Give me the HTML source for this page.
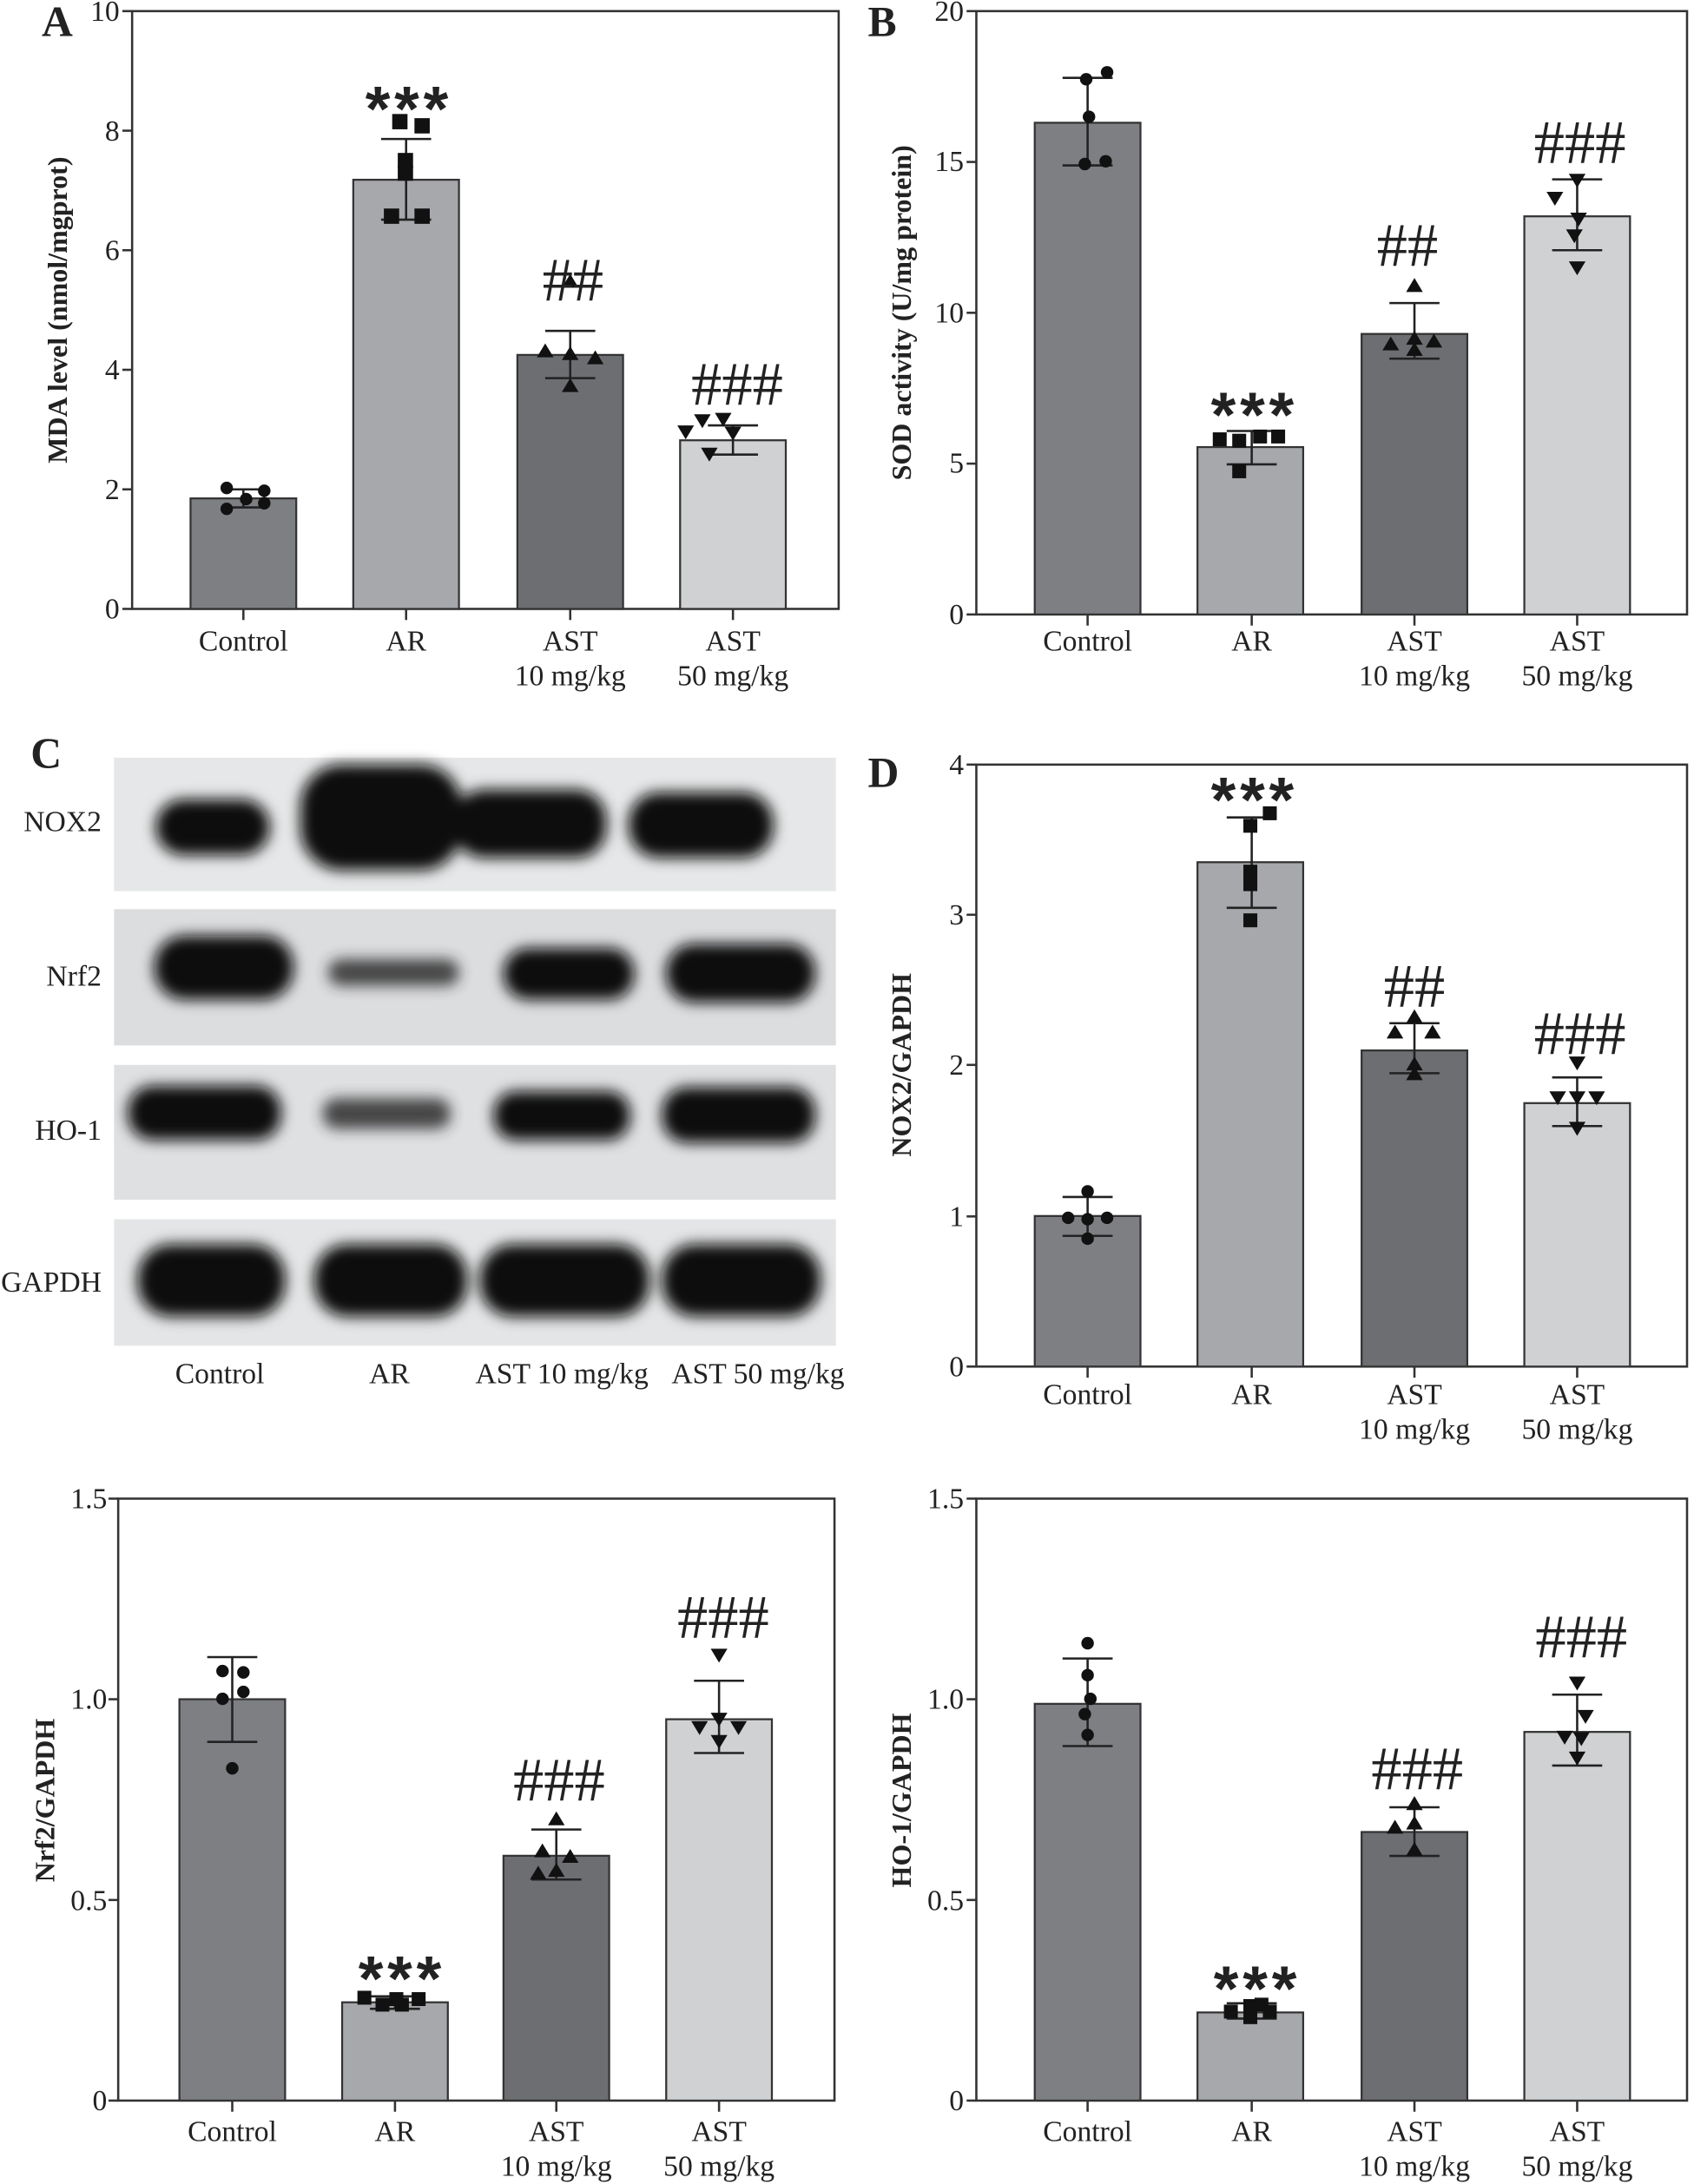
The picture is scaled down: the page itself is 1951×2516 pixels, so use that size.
<!DOCTYPE html>
<html><head><meta charset="utf-8"><style>
html,body{margin:0;padding:0;background:#fff}
svg{display:block}
text{font-family:"Liberation Serif",serif;fill:#222}
.t{font-size:21px}
.yl{font-size:20px;font-weight:bold}
.pl{font-size:31px;font-weight:bold}
.st{font-size:46px;font-family:"Liberation Sans",sans-serif;font-weight:bold;letter-spacing:3px}
.h{font-size:44px}
.ax{stroke:#333;stroke-width:1.6;fill:none}
.bar{stroke:#333;stroke-width:1.4}
.e{stroke:#222;stroke-width:1.6;fill:none}
</style></head><body>
<svg width="1951" height="2516" viewBox="0 0 1218 1571" preserveAspectRatio="none" xmlns="http://www.w3.org/2000/svg">
<defs>
<filter id="bl" x="-20%" y="-60%" width="140%" height="220%"><feGaussianBlur stdDeviation="5"/></filter>
</defs>

<!-- ===== Panel A ===== -->
<text class="pl" x="30" y="26">A</text>
<rect class="ax" x="95" y="8" width="508" height="430"/>
<g class="ax"><line x1="88" y1="438" x2="95" y2="438"/><line x1="88" y1="352" x2="95" y2="352"/><line x1="88" y1="266" x2="95" y2="266"/><line x1="88" y1="180" x2="95" y2="180"/><line x1="88" y1="94" x2="95" y2="94"/><line x1="88" y1="8" x2="95" y2="8"/>
<line x1="175" y1="438" x2="175" y2="446"/><line x1="292" y1="438" x2="292" y2="446"/><line x1="410" y1="438" x2="410" y2="446"/><line x1="527" y1="438" x2="527" y2="446"/></g>
<g class="t" text-anchor="end"><text x="86" y="445">0</text><text x="86" y="359">2</text><text x="86" y="273">4</text><text x="86" y="187">6</text><text x="86" y="101">8</text><text x="86" y="15">10</text></g>
<text class="yl" transform="translate(48,223) rotate(-90)" text-anchor="middle">MDA level (nmol/mgprot)</text>
<rect class="bar" x="137" y="358.5" width="76" height="79.5" fill="#7d7f83"/>
<rect class="bar" x="254" y="129.3" width="76" height="308.7" fill="#a6a8ac"/>
<rect class="bar" x="372" y="255.3" width="76" height="182.7" fill="#6d6e72"/>
<rect class="bar" x="489" y="316.7" width="76" height="121.3" fill="#d0d1d3"/>
<g class="e"><path d="M175 365V352M160 352H190M160 365H190"/><path d="M292 158V100M274 100H310M274 158H310"/><path d="M410 272V238M392 238H428M392 272H428"/><path d="M527 327V306M509 306H545M509 327H545"/></g>
<g fill="#111"><circle cx="163" cy="351" r="4.5"/><circle cx="190" cy="353" r="4.5"/><circle cx="177" cy="359" r="4.5"/><circle cx="163" cy="366" r="4.5"/><circle cx="190" cy="362" r="4.5"/>
<rect x="282" y="82" width="11" height="11"/><rect x="298" y="85" width="11" height="11"/><rect x="286" y="110" width="11" height="11"/><rect x="286" y="119" width="11" height="11"/><rect x="276" y="150" width="11" height="11"/><rect x="298" y="150" width="11" height="11"/>
<path d="M410 197l6 10h-12z"/><path d="M392 247l6 10h-12z"/><path d="M410 249l6 10h-12z"/><path d="M428 252l6 10h-12z"/><path d="M410 272l6 10h-12z"/>
<path d="M505 308l6-10h-12z"/><path d="M520 307l6-10h-12z"/><path d="M493 316l6-10h-12z"/><path d="M527 317l6-10h-12z"/><path d="M510 332l6-10h-12z"/></g>
<text class="st" x="294" y="94" text-anchor="middle">***</text>
<text class="h" x="412" y="216" text-anchor="middle">##</text>
<text class="h" x="530" y="291" text-anchor="middle">###</text>
<g class="t" text-anchor="middle"><text x="175" y="468">Control</text><text x="292" y="468">AR</text><text x="410" y="468">AST</text><text x="410" y="493">10 mg/kg</text><text x="527" y="468">AST</text><text x="527" y="493">50 mg/kg</text></g>

<!-- ===== Panel B ===== -->
<text class="pl" x="624" y="26">B</text>
<rect class="ax" x="702" y="8" width="511" height="434"/>
<g class="ax"><line x1="695" y1="442" x2="702" y2="442"/><line x1="695" y1="333.5" x2="702" y2="333.5"/><line x1="695" y1="225" x2="702" y2="225"/><line x1="695" y1="116.5" x2="702" y2="116.5"/><line x1="695" y1="8" x2="702" y2="8"/>
<line x1="782" y1="442" x2="782" y2="450"/><line x1="900" y1="442" x2="900" y2="450"/><line x1="1017" y1="442" x2="1017" y2="450"/><line x1="1134" y1="442" x2="1134" y2="450"/></g>
<g class="t" text-anchor="end"><text x="693" y="449">0</text><text x="693" y="340">5</text><text x="693" y="232">10</text><text x="693" y="123">15</text><text x="693" y="15">20</text></g>
<text class="yl" transform="translate(655,225) rotate(-90)" text-anchor="middle">SOD activity (U/mg protein)</text>
<rect class="bar" x="744" y="88.3" width="76" height="353.7" fill="#7d7f83"/>
<rect class="bar" x="861" y="321.6" width="76" height="120.4" fill="#a6a8ac"/>
<rect class="bar" x="979" y="240.2" width="76" height="201.8" fill="#6d6e72"/>
<rect class="bar" x="1096" y="155.6" width="76" height="286.4" fill="#d0d1d3"/>
<g class="e"><path d="M782 119V56M764 56H800M764 119H800"/><path d="M900 334V310M882 310H918M882 334H918"/><path d="M1017 258V218M999 218H1035M999 258H1035"/><path d="M1134 180V129M1116 129H1152M1116 180H1152"/></g>
<g fill="#111"><circle cx="796" cy="52" r="4.5"/><circle cx="781" cy="57" r="4.5"/><circle cx="783" cy="84" r="4.5"/><circle cx="780" cy="118" r="4.5"/><circle cx="795" cy="116" r="4.5"/>
<rect x="872" y="311" width="10" height="10"/><rect x="886" y="312" width="10" height="10"/><rect x="901" y="309" width="10" height="10"/><rect x="914" y="309" width="10" height="10"/><rect x="886" y="334" width="10" height="10"/>
<path d="M1017 200l6 10h-12z"/><path d="M1000 242l6 10h-12z"/><path d="M1017 238l6 10h-12z"/><path d="M1031 240l6 10h-12z"/><path d="M1017 246l6 10h-12z"/>
<path d="M1134 135l6-10h-12z"/><path d="M1118 148l6-10h-12z"/><path d="M1135 163l6-10h-12z"/><path d="M1132 175l6-10h-12z"/><path d="M1134 198l6-10h-12z"/></g>
<text class="st" x="902" y="314" text-anchor="middle">***</text>
<text class="h" x="1012" y="191" text-anchor="middle">##</text>
<text class="h" x="1136" y="117" text-anchor="middle">###</text>
<g class="t" text-anchor="middle"><text x="782" y="468">Control</text><text x="900" y="468">AR</text><text x="1017" y="468">AST</text><text x="1017" y="493">10 mg/kg</text><text x="1134" y="468">AST</text><text x="1134" y="493">50 mg/kg</text></g>

<!-- ===== Panel C ===== -->
<text class="pl" x="22" y="552">C</text>
<rect x="82" y="545" width="519" height="96" fill="#e6e7e8"/>
<rect x="82" y="654" width="519" height="98" fill="#dcdddf"/>
<rect x="82" y="766" width="519" height="97" fill="#dfe0e2"/>
<rect x="82" y="877" width="519" height="91" fill="#e4e5e6"/>
<g fill="#0a0a0a" filter="url(#bl)">
<rect x="112" y="575" width="82" height="40" rx="20"/>
<rect x="216" y="550" width="116" height="76" rx="30"/><rect x="326" y="568" width="110" height="49" rx="22"/><rect x="452" y="570" width="104" height="47" rx="22"/>
<rect x="111" y="673" width="100" height="46" rx="22"/><rect x="362" y="682" width="94" height="37" rx="18"/><rect x="479" y="679" width="107" height="42" rx="20"/>
<rect x="92" y="781" width="110" height="39" rx="18"/><rect x="355" y="785" width="98" height="35" rx="16"/><rect x="476" y="782" width="110" height="40" rx="18"/>
<rect x="99" y="895" width="106" height="52" rx="24"/><rect x="226" y="895" width="110" height="52" rx="24"/><rect x="345" y="895" width="122" height="52" rx="24"/><rect x="476" y="895" width="114" height="52" rx="24"/>
</g>
<g fill="#2a2a2a" filter="url(#bl)" opacity="0.85">
<rect x="236" y="690" width="94" height="19" rx="9"/><rect x="232" y="790" width="92" height="22" rx="10"/>
</g>
<g class="t" text-anchor="end"><text x="73" y="598">NOX2</text><text x="73" y="709">Nrf2</text><text x="73" y="820">HO-1</text><text x="73" y="929">GAPDH</text></g>
<g class="t" text-anchor="middle"><text x="158" y="995">Control</text><text x="280" y="995">AR</text><text x="404" y="995">AST 10 mg/kg</text><text x="545" y="995">AST 50 mg/kg</text></g>

<!-- ===== Panel D ===== -->
<text class="pl" x="624" y="566">D</text>
<rect class="ax" x="702" y="550" width="511" height="433"/>
<g class="ax"><line x1="695" y1="983" x2="702" y2="983"/><line x1="695" y1="875" x2="702" y2="875"/><line x1="695" y1="766" x2="702" y2="766"/><line x1="695" y1="658" x2="702" y2="658"/><line x1="695" y1="550" x2="702" y2="550"/>
<line x1="782" y1="983" x2="782" y2="991"/><line x1="900" y1="983" x2="900" y2="991"/><line x1="1017" y1="983" x2="1017" y2="991"/><line x1="1134" y1="983" x2="1134" y2="991"/></g>
<g class="t" text-anchor="end"><text x="693" y="990">0</text><text x="693" y="882">1</text><text x="693" y="773">2</text><text x="693" y="665">3</text><text x="693" y="557">4</text></g>
<text class="yl" transform="translate(655,766) rotate(-90)" text-anchor="middle">NOX2/GAPDH</text>
<rect class="bar" x="744" y="874.7" width="76" height="108.3" fill="#7d7f83"/>
<rect class="bar" x="861" y="620.2" width="76" height="362.8" fill="#a6a8ac"/>
<rect class="bar" x="979" y="755.6" width="76" height="227.4" fill="#6d6e72"/>
<rect class="bar" x="1096" y="793.5" width="76" height="189.5" fill="#d0d1d3"/>
<g class="e"><path d="M782 889V861M764 861H800M764 889H800"/><path d="M900 653V588M882 588H918M882 653H918"/><path d="M1017 772V736M999 736H1035M999 772H1035"/><path d="M1134 810V775M1116 775H1152M1116 810H1152"/></g>
<g fill="#111"><circle cx="782" cy="857" r="4.5"/><circle cx="768" cy="876" r="4.5"/><circle cx="782" cy="877" r="4.5"/><circle cx="796" cy="876" r="4.5"/><circle cx="782" cy="891" r="4.5"/>
<rect x="908" y="580" width="10" height="10"/><rect x="894" y="589" width="10" height="10"/><rect x="894" y="622" width="10" height="10"/><rect x="894" y="631" width="10" height="10"/><rect x="894" y="657" width="10" height="10"/>
<path d="M1017 726l6 10h-12z"/><path d="M1003 737l6 10h-12z"/><path d="M1030 737l6 10h-12z"/><path d="M1017 760l6 10h-12z"/><path d="M1017 767l6 10h-12z"/>
<path d="M1134 770l6-10h-12z"/><path d="M1120 795l6-10h-12z"/><path d="M1148 795l6-10h-12z"/><path d="M1134 795l6-10h-12z"/><path d="M1134 817l6-10h-12z"/></g>
<text class="st" x="902" y="591" text-anchor="middle">***</text>
<text class="h" x="1017" y="724" text-anchor="middle">##</text>
<text class="h" x="1136" y="758" text-anchor="middle">###</text>
<g class="t" text-anchor="middle"><text x="782" y="1010">Control</text><text x="900" y="1010">AR</text><text x="1017" y="1010">AST</text><text x="1017" y="1035">10 mg/kg</text><text x="1134" y="1010">AST</text><text x="1134" y="1035">50 mg/kg</text></g>

<!-- ===== Nrf2 ===== -->
<rect class="ax" x="85" y="1078" width="515" height="433"/>
<g class="ax"><line x1="78" y1="1511" x2="85" y2="1511"/><line x1="78" y1="1366.7" x2="85" y2="1366.7"/><line x1="78" y1="1222.3" x2="85" y2="1222.3"/><line x1="78" y1="1078" x2="85" y2="1078"/>
<line x1="167" y1="1511" x2="167" y2="1519"/><line x1="284" y1="1511" x2="284" y2="1519"/><line x1="400" y1="1511" x2="400" y2="1519"/><line x1="517" y1="1511" x2="517" y2="1519"/></g>
<g class="t" text-anchor="end"><text x="77" y="1518">0</text><text x="77" y="1374">0.5</text><text x="77" y="1229">1.0</text><text x="77" y="1085">1.5</text></g>
<text class="yl" transform="translate(39,1295) rotate(-90)" text-anchor="middle">Nrf2/GAPDH</text>
<rect class="bar" x="129" y="1222.3" width="76" height="288.7" fill="#7d7f83"/>
<rect class="bar" x="246" y="1440.3" width="76" height="70.7" fill="#a6a8ac"/>
<rect class="bar" x="362" y="1334.9" width="76" height="176.1" fill="#6d6e72"/>
<rect class="bar" x="479" y="1236.7" width="76" height="274.3" fill="#d0d1d3"/>
<g class="e"><path d="M167 1253V1192M149 1192H185M149 1253H185"/><path d="M284 1445V1436M266 1436H302M266 1445H302"/><path d="M400 1352V1316M382 1316H418M382 1352H418"/><path d="M517 1261V1209M499 1209H535M499 1261H535"/></g>
<g fill="#111"><circle cx="160" cy="1202" r="4.5"/><circle cx="175" cy="1203" r="4.5"/><circle cx="175" cy="1217" r="4.5"/><circle cx="160" cy="1222" r="4.5"/><circle cx="167" cy="1272" r="4.5"/>
<rect x="257" y="1432" width="10" height="10"/><rect x="270" y="1437" width="10" height="10"/><rect x="284" y="1437" width="10" height="10"/><rect x="296" y="1433" width="10" height="10"/><rect x="280" y="1433" width="10" height="10"/>
<path d="M400 1303l6 10h-12z"/><path d="M390 1326l6 10h-12z"/><path d="M410 1330l6 10h-12z"/><path d="M400 1340l6 10h-12z"/><path d="M387 1342l6 10h-12z"/>
<path d="M517 1196l6-10h-12z"/><path d="M503 1248l6-10h-12z"/><path d="M517 1242l6-10h-12z"/><path d="M531 1248l6-10h-12z"/><path d="M517 1258l6-10h-12z"/></g>
<text class="st" x="289" y="1439" text-anchor="middle">***</text>
<text class="h" x="402" y="1295" text-anchor="middle">###</text>
<text class="h" x="520" y="1178" text-anchor="middle">###</text>
<g class="t" text-anchor="middle"><text x="167" y="1540">Control</text><text x="284" y="1540">AR</text><text x="400" y="1540">AST</text><text x="400" y="1565">10 mg/kg</text><text x="517" y="1540">AST</text><text x="517" y="1565">50 mg/kg</text></g>

<!-- ===== HO-1 ===== -->
<rect class="ax" x="702" y="1078" width="511" height="433"/>
<g class="ax"><line x1="695" y1="1511" x2="702" y2="1511"/><line x1="695" y1="1366.7" x2="702" y2="1366.7"/><line x1="695" y1="1222.3" x2="702" y2="1222.3"/><line x1="695" y1="1078" x2="702" y2="1078"/>
<line x1="782" y1="1511" x2="782" y2="1519"/><line x1="900" y1="1511" x2="900" y2="1519"/><line x1="1017" y1="1511" x2="1017" y2="1519"/><line x1="1134" y1="1511" x2="1134" y2="1519"/></g>
<g class="t" text-anchor="end"><text x="693" y="1518">0</text><text x="693" y="1374">0.5</text><text x="693" y="1229">1.0</text><text x="693" y="1085">1.5</text></g>
<text class="yl" transform="translate(655,1295) rotate(-90)" text-anchor="middle">HO-1/GAPDH</text>
<rect class="bar" x="744" y="1225.6" width="76" height="285.4" fill="#7d7f83"/>
<rect class="bar" x="861" y="1447.6" width="76" height="63.4" fill="#a6a8ac"/>
<rect class="bar" x="979" y="1317.8" width="76" height="193.2" fill="#6d6e72"/>
<rect class="bar" x="1096" y="1245.8" width="76" height="265.2" fill="#d0d1d3"/>
<g class="e"><path d="M782 1256V1193M764 1193H800M764 1256H800"/><path d="M900 1452V1441M882 1441H918M882 1452H918"/><path d="M1017 1335V1300M999 1300H1035M999 1335H1035"/><path d="M1134 1270V1219M1116 1219H1152M1116 1270H1152"/></g>
<g fill="#111"><circle cx="782" cy="1182" r="4.5"/><circle cx="782" cy="1205" r="4.5"/><circle cx="784" cy="1222" r="4.5"/><circle cx="780" cy="1233" r="4.5"/><circle cx="782" cy="1248" r="4.5"/>
<rect x="880" y="1442" width="10" height="10"/><rect x="894" y="1438" width="10" height="10"/><rect x="908" y="1442" width="10" height="10"/><rect x="894" y="1446" width="10" height="10"/><rect x="902" y="1437" width="10" height="10"/>
<path d="M1017 1292l6 10h-12z"/><path d="M1003 1309l6 10h-12z"/><path d="M1017 1325l6 10h-12z"/><path d="M1017 1306l6 10h-12z"/>
<path d="M1134 1216l6-10h-12z"/><path d="M1140 1240l6-10h-12z"/><path d="M1125 1255l6-10h-12z"/><path d="M1137 1256l6-10h-12z"/><path d="M1134 1270l6-10h-12z"/></g>
<text class="st" x="904" y="1446" text-anchor="middle">***</text>
<text class="h" x="1019" y="1287" text-anchor="middle">###</text>
<text class="h" x="1137" y="1192" text-anchor="middle">###</text>
<g class="t" text-anchor="middle"><text x="782" y="1540">Control</text><text x="900" y="1540">AR</text><text x="1017" y="1540">AST</text><text x="1017" y="1565">10 mg/kg</text><text x="1134" y="1540">AST</text><text x="1134" y="1565">50 mg/kg</text></g>
</svg>
</body></html>
